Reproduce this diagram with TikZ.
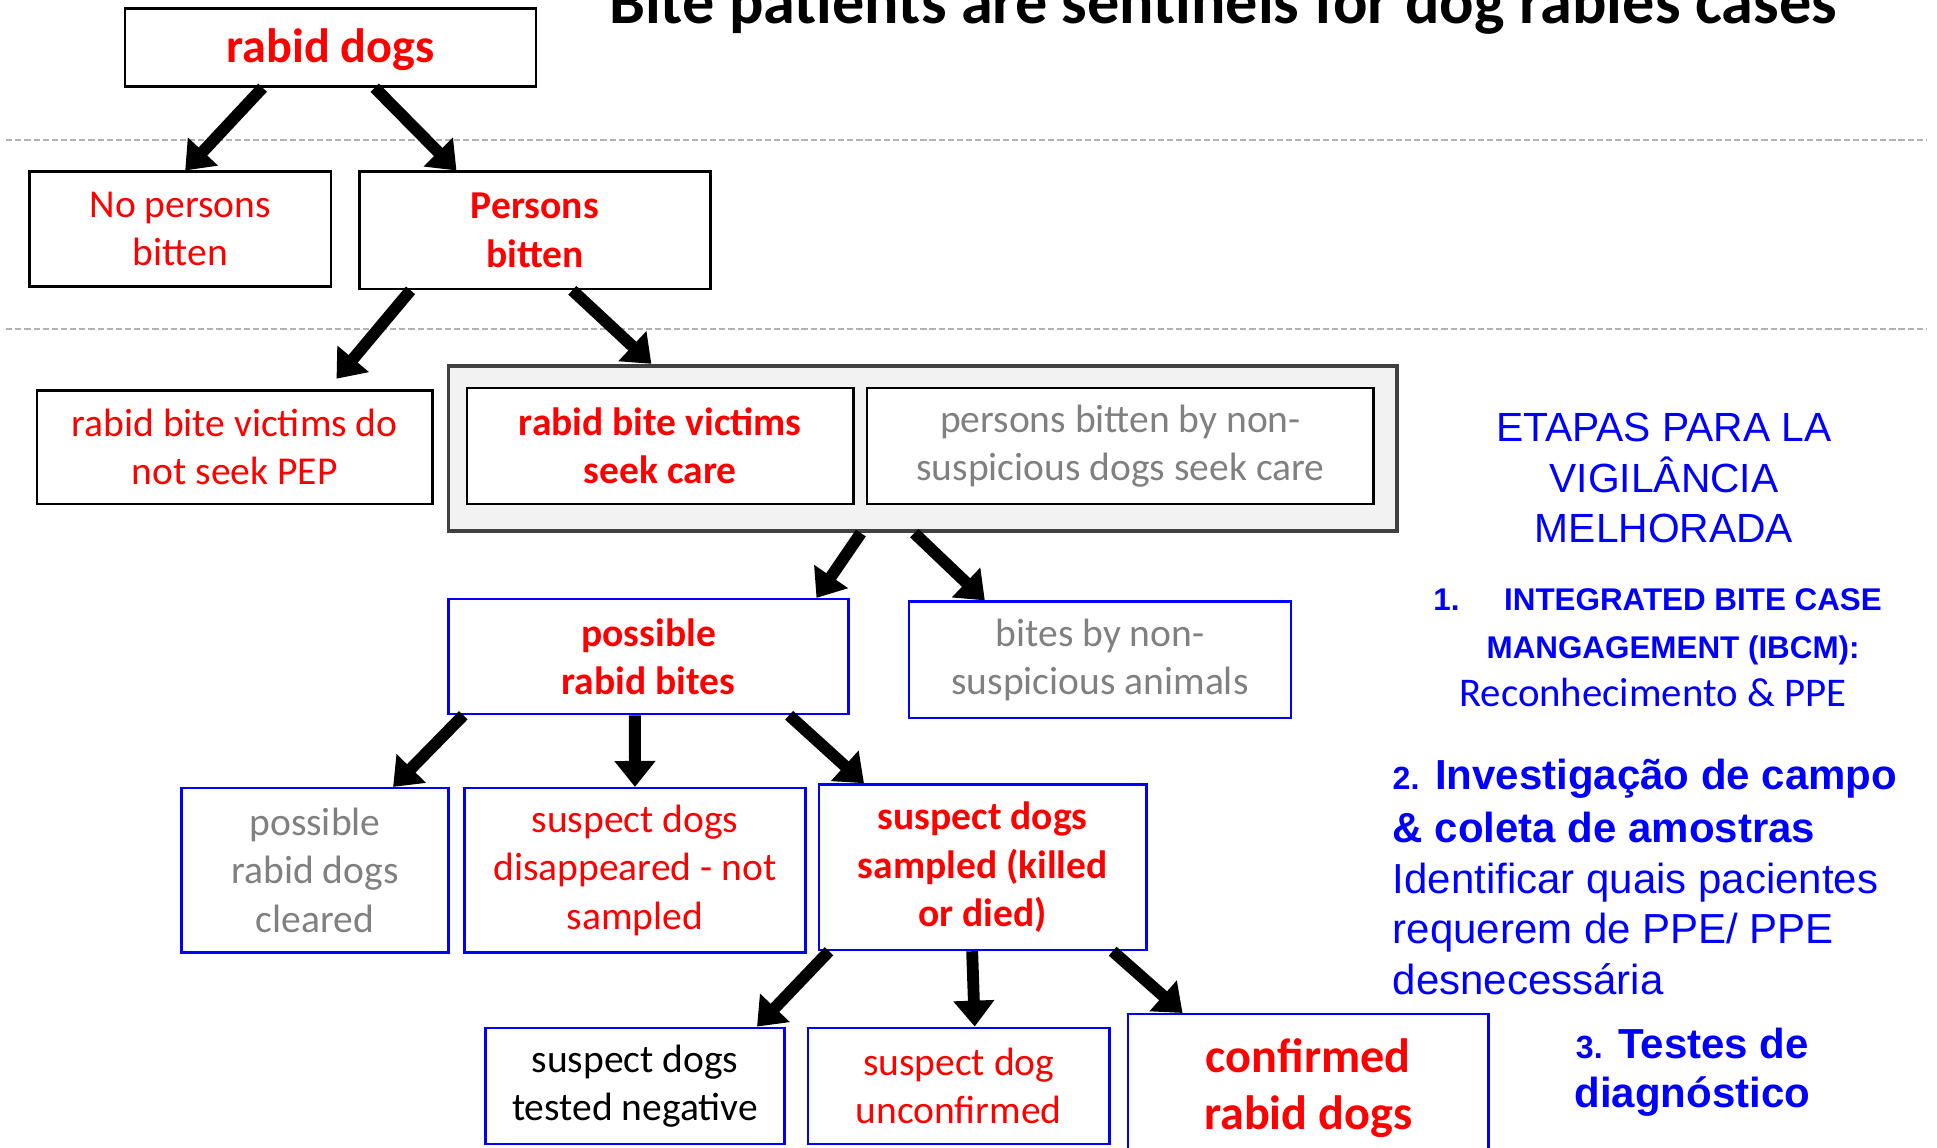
\documentclass[tikz,border=0pt]{standalone}
\usepackage{fontspec}
\setmainfont{Carlito}
\newfontfamily\arialfont{Liberation Sans}
\usetikzlibrary{arrows.meta,calc}

\definecolor{greytext}{RGB}{128,128,128}
\definecolor{boxblue}{RGB}{0,0,255}
\definecolor{groupfill}{RGB}{242,242,242}

\begin{document}
\begin{tikzpicture}[
    x=0.5pt, y=-0.5pt,
    box/.style={
        rectangle,
        draw=black,
        line width=1pt,
        fill=white,
        align=center,
        inner sep=2pt,
        font=\fontsize{16}{19.5}\selectfont
    },
    bluebox/.style={box, draw=boxblue},
    boldtext/.style={font=\fontsize{16}{19.5}\selectfont\bfseries},
    bigtext/.style={font=\fontsize{19.5}{23}\selectfont\bfseries},
    arrow/.style={
        -{Triangle[length=10.5pt,width=16pt]},
        line width=4.8pt,
        color=black
    },
    sepline/.style={
        dashed,
        dash pattern=on 2.5pt off 1.2pt,
        line width=0.8pt,
        color=gray!60
    },
    steptext/.style={
        text=boxblue,
        inner sep=0pt
    }
]

\useasboundingbox (0,0) rectangle (1568,928.5);

% Title (cut at the top)
\node[font=\fontsize{26}{30}\selectfont\bfseries, anchor=base] (title) at (990,19)
    {Bite patients are sentinels for dog rabies cases};

% Separators
\draw[sepline] (5,113) -- (1560,113);
\draw[sepline] (5,266) -- (1560,266);

% Level 1
\node[box, bigtext, text=red, text depth=2pt, minimum width=166.5pt, minimum height=31.5pt] (dogs) at (267.5,38.5) {rabid dogs};

% Level 2
\node[box, text=red, minimum width=122pt, minimum height=46.5pt] (nobite) at (146,185.5) {No persons\\bitten};
\node[box, boldtext, text=red, minimum width=142pt, minimum height=47.5pt] (bitten) at (433,186.5) {Persons\\bitten};

% Level 3
\node[box, text=red, minimum width=160pt, minimum height=46pt] (noseek) at (190,362) {rabid bite victims do\\not seek PEP};
\node[box, fill=groupfill, draw=black!75, line width=1.5pt, minimum width=384pt, minimum height=67pt] (group) at (747,363) {};
\node[box, boldtext, text=red, minimum width=156.5pt, minimum height=47pt] (seek) at (534.5,361) {rabid bite victims\\seek care};
\node[box, text=greytext, minimum width=205pt, minimum height=47pt] (nonsusp) at (907,361) {persons bitten by non-\\suspicious dogs seek care};

% Level 4
\node[bluebox, boldtext, text=red, minimum width=162pt, minimum height=46.5pt] (possible) at (525,531.5) {possible\\rabid bites};
\node[bluebox, text=greytext, minimum width=154.5pt, minimum height=47pt] (nonanimal) at (890.5,534) {bites by non-\\suspicious animals};

% Level 5
\node[bluebox, text=greytext, minimum width=108pt, minimum height=66.5pt] (cleared) at (255,704.5) {possible\\rabid dogs\\cleared};
\node[bluebox, text=red, minimum width=138pt, minimum height=66.5pt] (gone) at (514,704.5) {suspect dogs\\disappeared - not\\sampled};
\node[bluebox, boldtext, text=red, minimum width=132.5pt, minimum height=67pt] (sampled) at (795.5,702) {suspect dogs\\sampled (killed\\or died)};

% Level 6
\node[bluebox, text=black, minimum width=121pt, minimum height=47pt] (negative) at (514,879) {suspect dogs\\tested negative};
\node[bluebox, text=red, minimum width=122pt, minimum height=47pt] (unconf) at (776,879) {suspect dog\\unconfirmed};
\node[bluebox, bigtext, text=red, minimum width=146pt, minimum height=59.5pt] (confirmed) at (1059,880.5) {confirmed\\rabid dogs};

% Arrows
\draw[arrow] ($(dogs.south west)!.336!(dogs.south east)$) -- ($(nobite.north west)!.516!(nobite.north east)$);
\draw[arrow] ($(dogs.south west)!.607!(dogs.south east)$) -- ($(bitten.north west)!.278!(bitten.north east)$);
\draw[arrow, shorten >=5.5pt] ($(bitten.south west)!.148!(bitten.south east)$) -- ($(noseek.north west)!.734!(noseek.north east)$);
\draw[arrow] ($(bitten.south west)!.606!(bitten.south east)$) -- ($(group.north west)!.215!(group.north east)$);
\draw[arrow] ($(group.south west)!.435!(group.south east)$) -- ($(possible.north west)!.917!(possible.north east)$);
\draw[arrow] ($(group.south west)!.491!(group.south east)$) -- ($(nonanimal.north west)!.2!(nonanimal.north east)$);
\draw[arrow] ($(possible.south west)!.04!(possible.south east)$) -- ($(cleared.north west)!.79!(cleared.north east)$);
\draw[arrow] ($(possible.south west)!.466!(possible.south east)$) -- ($(gone.north west)!.5!(gone.north east)$);
\draw[arrow] ($(possible.south west)!.849!(possible.south east)$) -- ($(sampled.north west)!.14!(sampled.north east)$);
\draw[arrow] ($(sampled.south west)!.034!(sampled.south east)$) -- ($(negative.north west)!.905!(negative.north east)$);
\draw[arrow] ($(sampled.south west)!.468!(sampled.south east)$) -- ($(unconf.north west)!.553!(unconf.north east)$);
\draw[arrow] ($(sampled.south west)!.894!(sampled.south east)$) -- ($(confirmed.north west)!.154!(confirmed.north east)$);

% Steps on the right
\node[steptext, align=center, font=\arialfont\fontsize{16.5}{20.5}\selectfont] (etapas) at (1347,387)
    {ETAPAS PARA LA\\VIGILÂNCIA\\MELHORADA};
\node[steptext, align=left, anchor=north west, font=\fontsize{12.7}{19.5}\selectfont] (stepone) at (1160,476)
    {{\arialfont\bfseries 1.\hspace{18pt}INTEGRATED BITE CASE}\\
     \hspace{21.5pt}{\arialfont\bfseries MANGAGEMENT (IBCM):}\\
     \hspace{10.5pt}{\fontsize{16.5}{19.5}\selectfont Reconhecimento \& PPE}};
\node[steptext, align=left, anchor=north west, font=\arialfont\fontsize{17}{20.5}\selectfont] (steptwo) at (1127,614)
    {{\bfseries{\fontsize{13}{20.5}\selectfont 2.} Investigação de campo}\\[1pt]
     {\bfseries \& coleta de amostras}\\
     Identificar quais pacientes\\
     requerem de PPE/ PPE\\
     desnecessária};
\node[steptext, align=center, font=\arialfont\bfseries\fontsize{17}{20}\selectfont] (stepthree) at (1370,868)
    {{\fontsize{13}{20}\selectfont 3.} Testes de\\diagnóstico};

\end{tikzpicture}
\end{document}
